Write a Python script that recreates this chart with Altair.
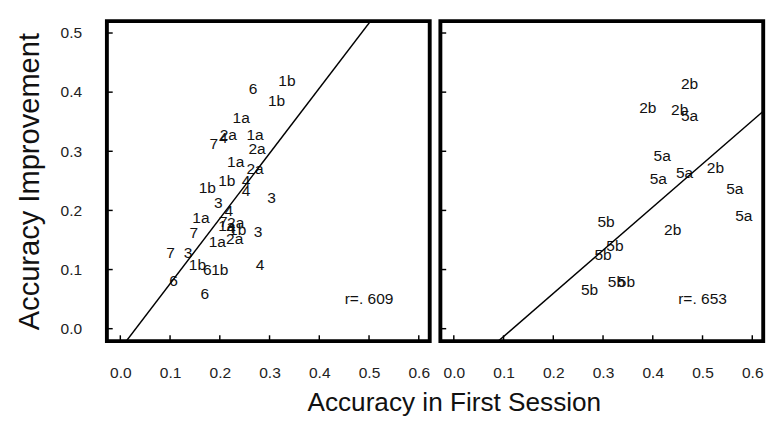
import altair as alt
import pandas as pd

# ---- data ----
left_labels = ["6", "1b", "1b", "1a", "2a", "7", "4", "1a", "2a", "1a", "2a", "1b", "1b",
               "4", "4", "3", "3", "4", "1a", "7", "1a", "2a", "4", "1b", "3", "7",
               "1a", "2a", "7", "3", "1b", "6", "1b", "4", "6", "6"]
left_x = [0.267, 0.335, 0.314, 0.243, 0.217, 0.188, 0.207, 0.271, 0.275, 0.232, 0.271, 0.214, 0.175,
          0.253, 0.253, 0.304, 0.197, 0.218, 0.162, 0.207, 0.214, 0.232, 0.222, 0.236, 0.277, 0.148,
          0.195, 0.230, 0.101, 0.136, 0.155, 0.175, 0.200, 0.281, 0.107, 0.170]
left_y = [0.405, 0.419, 0.384, 0.356, 0.327, 0.312, 0.322, 0.327, 0.304, 0.281, 0.269, 0.250, 0.238,
          0.250, 0.232, 0.220, 0.212, 0.199, 0.187, 0.181, 0.173, 0.178, 0.170, 0.166, 0.164, 0.161,
          0.146, 0.151, 0.127, 0.127, 0.107, 0.099, 0.099, 0.107, 0.081, 0.058]

right_labels = ["2b", "2b", "2b", "5a", "5a", "5a", "5a", "2b", "5a", "5a", "5b", "2b",
                "5b", "5b", "5b", "5b", "5b"]
right_x = [0.474, 0.390, 0.454, 0.474, 0.419, 0.411, 0.464, 0.526, 0.565, 0.583, 0.306, 0.440,
           0.324, 0.300, 0.273, 0.327, 0.347]
right_y = [0.414, 0.373, 0.370, 0.360, 0.292, 0.253, 0.263, 0.271, 0.236, 0.190, 0.181, 0.166,
           0.140, 0.125, 0.066, 0.078, 0.078]

fit_left = [1.102, -0.0342]    # slope, intercept
fit_right = [0.730, -0.0863]
r_texts = ["r=. 609", "r=. 653"]
r_pos = [0.50, 0.05]

x_ticks = [0.0, 0.1, 0.2, 0.3, 0.4, 0.5, 0.6]
y_ticks = [0.0, 0.1, 0.2, 0.3, 0.4, 0.5]

x_title = "Accuracy in First Session"
y_title = "Accuracy Improvement"

# ---- layout ----
W, H = 333, 330
xdom = [-0.027, 0.622]
ydom = [-0.021, 0.52]
FONT = "Liberation Sans"


def panel(labels, xs, ys, fit, rtext, show_y):
    xscale = alt.Scale(domain=xdom, nice=False, zero=False)
    yscale = alt.Scale(domain=ydom, nice=False, zero=False)
    xaxis = alt.Axis(values=x_ticks, format=".1f", ticks=False, domain=False, grid=False,
                     labelPadding=25, labelFontSize=16, labelFont=FONT, labelColor="#222",
                     title=None)
    if show_y:
        yaxis = alt.Axis(values=y_ticks, format=".1f", ticks=False, domain=False, grid=False,
                         labelPadding=26, labelFontSize=16, labelFont=FONT, labelColor="#222",
                         title=y_title, titleFontSize=30, titleFont=FONT, titleFontWeight="normal",
                         titleColor="#111", titlePadding=16)
    else:
        yaxis = alt.Axis(values=y_ticks, labels=False, ticks=False, domain=False, grid=False,
                         title=None)

    X = lambda f: alt.X(f, scale=xscale, axis=xaxis)
    Y = lambda f: alt.Y(f, scale=yscale, axis=yaxis)

    df = pd.DataFrame({"x": xs, "y": ys, "label": labels})
    text = alt.Chart(df).mark_text(fontSize=16, font=FONT, color="#111").encode(
        x=X("x:Q"), y=Y("y:Q"), text="label:N",
    )

    line_df = pd.DataFrame({"x": xdom, "y": [fit[0] * v + fit[1] for v in xdom]})
    line = alt.Chart(line_df).mark_line(color="black", strokeWidth=1.5, clip=True).encode(
        x=X("x:Q"), y=Y("y:Q"),
    )

    xt = alt.Chart(pd.DataFrame({"x": x_ticks})).mark_rule(color="black", strokeWidth=1.5).encode(
        x=X("x:Q"), y=alt.value(H), y2=alt.value(H - 6),
    )
    yt = alt.Chart(pd.DataFrame({"y": y_ticks})).mark_rule(color="black", strokeWidth=1.5).encode(
        y=Y("y:Q"), x=alt.value(0), x2=alt.value(6),
    )

    r_df = pd.DataFrame({"x": [r_pos[0]], "y": [r_pos[1]], "label": [rtext]})
    r = alt.Chart(r_df).mark_text(fontSize=16, font=FONT, color="#111").encode(
        x=X("x:Q"), y=Y("y:Q"), text="label:N",
    )
    return alt.layer(text, line, xt, yt, r).properties(width=W, height=H)


left = panel(left_labels, left_x, left_y, fit_left, r_texts[0], True)
right = panel(right_labels, right_x, right_y, fit_right, r_texts[1], False)

chart = alt.hconcat(left, right, spacing=6).properties(
    title=alt.TitleParams(x_title, orient="bottom", anchor="middle", fontSize=27, font=FONT,
                          fontWeight="normal", color="#111", offset=8, dx=67),
    background="white",
).configure_view(stroke="black", strokeWidth=4)

chart.save("out.html", embed_options={"renderer": "svg", "actions": False})
